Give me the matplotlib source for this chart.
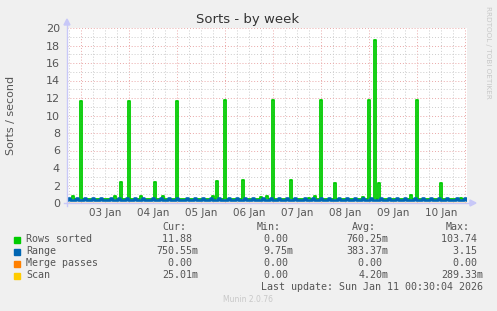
import matplotlib
matplotlib.use("Agg")
import matplotlib.pyplot as plt
import numpy as np
from matplotlib.ticker import MultipleLocator

# ---- data (hours relative to 03 Jan 00:00, hourly samples from -7 to 193) ----
t_start, t_end = -7, 193

rows_sorted = (
    [0.45, 0.45, 0.45, 0.8, 0.45, 0.45, 0.45]
    + [11.7, 0.45, 0.45, 0.45, 0.45, 0.45, 0.45, 0.45, 0.45, 0.45, 0.45, 0.45,
       0.45, 0.45, 0.45, 0.45, 0.45, 0.8, 0.45, 0.45, 2.4, 0.45, 0.45, 0.45]
    + [11.7, 0.45, 0.45, 0.45, 0.45, 0.45, 0.8, 0.45, 0.45, 0.45, 0.45, 0.45,
       0.45, 2.4, 0.45, 0.45, 0.45, 0.8, 0.45, 0.45, 0.45, 0.45, 0.45, 0.45]
    + [11.7, 0.45, 0.45, 0.45, 0.45, 0.45, 0.45, 0.45, 0.45, 0.45, 0.45, 0.45,
       0.45, 0.45, 0.45, 0.45, 0.45, 0.45, 0.8, 0.45, 2.5, 0.45, 0.45, 0.45]
    + [11.8, 0.45, 0.45, 0.45, 0.45, 0.45, 0.45, 0.45, 0.45, 2.6, 0.45, 0.45,
       0.45, 0.45, 0.45, 0.45, 0.45, 0.45, 0.7, 0.45, 0.45, 0.8, 0.45, 0.45]
    + [11.8, 0.45, 0.45, 0.45, 0.45, 0.45, 0.45, 0.45, 0.45, 2.6, 0.45, 0.45,
       0.45, 0.45, 0.45, 0.45, 0.45, 0.45, 0.6, 0.45, 0.45, 0.8, 0.45, 0.45]
    + [11.8, 0.45, 0.45, 0.45, 0.45, 0.45, 0.45, 2.3, 0.45, 0.45, 0.45, 0.45,
       0.45, 0.45, 0.45, 0.45, 0.45, 0.45, 0.45, 0.45, 0.45, 0.7, 0.45, 0.45]
    + [11.8, 0.45, 0.45, 18.6, 0.45, 2.3, 0.45, 0.45, 0.45, 0.45, 0.45, 0.45,
       0.45, 0.45, 0.45, 0.45, 0.45, 0.45, 0.45, 0.45, 0.45, 0.9, 0.45, 0.45]
    + [11.8, 0.45, 0.45, 0.45, 0.45, 0.45, 0.45, 0.45, 0.45, 0.45, 0.45, 0.45,
       2.3, 0.45, 0.45, 0.45, 0.45, 0.45, 0.45, 0.45, 0.45, 0.45, 0.6, 0.45]
    + [0.45, 0.45]
)

range_vals = (
    [0.35, 0.62, 0.35, 0.35, 0.35, 0.6, 0.35]
    + [0.4, 0.35, 0.6, 0.35, 0.35, 0.35, 0.62, 0.35, 0.35, 0.35, 0.6, 0.35,
       0.35, 0.35, 0.35, 0.62, 0.35, 0.35, 0.35, 0.6, 0.35, 0.35, 0.35, 0.62]
    + [0.4, 0.35, 0.35, 0.6, 0.35, 0.35, 0.35, 0.62, 0.35, 0.35, 0.35, 0.35,
       0.6, 0.35, 0.35, 0.35, 0.62, 0.35, 0.35, 0.35, 0.6, 0.35, 0.35, 0.35]
    + [0.62, 0.35, 0.35, 0.35, 0.35, 0.6, 0.35, 0.35, 0.35, 0.62, 0.35, 0.35,
       0.35, 0.6, 0.35, 0.35, 0.35, 0.62, 0.35, 0.35, 0.35, 0.6, 0.35, 0.35]
    + [0.4, 0.35, 0.6, 0.35, 0.35, 0.35, 0.62, 0.35, 0.35, 0.35, 0.6, 0.35,
       0.35, 0.35, 0.62, 0.35, 0.35, 0.35, 0.35, 0.6, 0.35, 0.35, 0.35, 0.62]
    + [0.4, 0.35, 0.35, 0.6, 0.35, 0.35, 0.35, 0.62, 0.35, 0.35, 0.35, 0.6,
       0.35, 0.35, 0.35, 0.35, 0.62, 0.35, 0.35, 0.35, 0.6, 0.35, 0.35, 0.35]
    + [0.62, 0.35, 0.35, 0.35, 0.6, 0.35, 0.35, 0.35, 0.35, 0.62, 0.35, 0.35,
       0.35, 0.6, 0.35, 0.35, 0.35, 0.62, 0.35, 0.35, 0.35, 0.6, 0.35, 0.35]
    + [0.4, 0.62, 0.35, 0.35, 0.35, 0.35, 0.6, 0.35, 0.35, 0.35, 0.62, 0.35,
       0.35, 0.35, 0.6, 0.35, 0.35, 0.35, 0.62, 0.35, 0.35, 0.35, 0.35, 0.6]
    + [0.4, 0.35, 0.35, 0.62, 0.35, 0.35, 0.35, 0.6, 0.35, 0.35, 0.35, 0.62,
       0.35, 0.35, 0.35, 0.6, 0.35, 0.35, 0.35, 0.35, 0.62, 0.35, 0.35, 0.35]
    + [0.6, 0.35]
)

daily_t = [-7, 0, 24, 48, 72, 96, 120, 144, 168, 193]
merge_passes = [0, 0, 0, 0, 0, 0, 0, 0, 0, 0]
scan = [0.02, 0.02, 0.02, 0.02, 0.02, 0.02, 0.02, 0.02, 0.02, 0.02]

day_labels = ["03 Jan", "04 Jan", "05 Jan", "06 Jan", "07 Jan", "08 Jan", "09 Jan", "10 Jan"]

legend_names = ["Rows sorted", "Range", "Merge passes", "Scan"]
colors = ["#00CC00", "#0066B3", "#FF8000", "#FFCC00"]
cur = ["11.88 ", "750.55m", "0.00 ", "25.01m"]
mins = ["0.00 ", "9.75m", "0.00 ", "0.00 "]
avgs = ["760.25m", "383.37m", "0.00 ", "4.20m"]
maxs = ["103.74 ", "3.15 ", "0.00 ", "289.33m"]

# ---- figure ----
W, H = 497, 311
fig = plt.figure(figsize=(W / 100, H / 100), dpi=100, facecolor="#F0F0F0")
L, R, T, B = 67, 467, 28, 203
ax = fig.add_axes([L / W, 1 - B / H, (R - L) / W, (B - T) / H], facecolor="white")

hours = np.arange(t_start, t_end + 1)
ax.plot(hours, rows_sorted, color=colors[0], lw=1.3, drawstyle="steps-mid", zorder=3)
ax.plot(hours, range_vals, color=colors[1], lw=1.9, drawstyle="steps-mid", zorder=4)
ax.plot(daily_t, merge_passes, color=colors[2], lw=1.0, zorder=5)
ax.plot(daily_t, scan, color=colors[3], lw=0.8, zorder=6, alpha=0.8)

ax.set_xlim(t_start, t_end)
ax.set_ylim(0, 20)

# grid
ax.yaxis.set_major_locator(MultipleLocator(2))
ax.yaxis.set_minor_locator(MultipleLocator(1))
ax.xaxis.set_major_locator(MultipleLocator(24))
ax.xaxis.set_minor_locator(MultipleLocator(6))
ax.grid(which="minor", color="#CCCCCC", linestyle=(0, (1, 2)), lw=0.7)
ax.grid(which="major", color="#EAA8A8", linestyle=(0, (1, 2)), lw=0.7)
ax.set_axisbelow(True)

for s in ax.spines.values():
    s.set_visible(False)

ax.tick_params(axis="y", which="both", length=0, labelsize=8, labelcolor="#555555", pad=5)
ax.tick_params(axis="x", which="both", length=0, labelbottom=False)
ax.set_yticks(np.arange(0, 21, 2))
ax.set_yticklabels([str(v) for v in range(0, 21, 2)])

# day labels at noon
for i, lab in enumerate(day_labels):
    x = 12 + 24 * i
    xf = (L + (x - t_start) / (t_end - t_start) * (R - L)) / W
    fig.text(xf, 1 - 213 / H, lab, ha="center", va="center", fontsize=7.5, color="#555555")

# axes lines with arrows (rrdtool style)
axis_col = "#C8C8F8"
fig.add_artist(plt.Line2D([L / W, L / W], [1 - (B + 3) / H, 1 - (T - 4) / H], color=axis_col, lw=1.0))
fig.add_artist(plt.Line2D([(L - 3) / W, (R + 3) / W], [1 - B / H, 1 - B / H], color=axis_col, lw=1.0))
fig.add_artist(plt.Polygon([[(L - 3) / W, 1 - (T - 3) / H], [(L + 3) / W, 1 - (T - 3) / H],
                            [L / W, 1 - (T - 9) / H]], closed=True, color=axis_col))
fig.add_artist(plt.Polygon([[(R + 3) / W, 1 - (B - 3) / H], [(R + 3) / W, 1 - (B + 3) / H],
                            [(R + 9) / W, 1 - B / H]], closed=True, color=axis_col))

# title and labels
fig.text(248 / W, 1 - 19 / H, "Sorts - by week", ha="center", va="center", fontsize=9.5, color="#333333")
fig.text(11 / W, 1 - 115 / H, "Sorts / second", ha="center", va="center", rotation=90,
         fontsize=8, color="#555555")
fig.text(488 / W, 1 - 52 / H, "RRDTOOL / TOBI OETIKER", ha="center", va="center", rotation=270,
         fontsize=5.2, color="#C8C8C8")

# legend table
mono = dict(family="DejaVu Sans Mono", fontsize=7.2, color="#555555")
hy = 1 - 227.5 / H
fig.text(186 / W, hy, "Cur:", ha="right", va="center", **mono)
fig.text(281 / W, hy, "Min:", ha="right", va="center", **mono)
fig.text(376 / W, hy, "Avg:", ha="right", va="center", **mono)
fig.text(470 / W, hy, "Max:", ha="right", va="center", **mono)
for i, name in enumerate(legend_names):
    yc = 239.5 + 12 * i
    yf = 1 - yc / H
    fig.add_artist(plt.Rectangle((14 / W, 1 - (yc + 3) / H), 6 / W, 6 / H, color=colors[i]))
    fig.text(26 / W, yf, name, ha="left", va="center", **mono)
    fig.text(198.5 / W, yf, cur[i], ha="right", va="center", **mono)
    fig.text(293.5 / W, yf, mins[i], ha="right", va="center", **mono)
    fig.text(388.5 / W, yf, avgs[i], ha="right", va="center", **mono)
    fig.text(483 / W, yf, maxs[i], ha="right", va="center", **mono)
fig.text(483 / W, 1 - 287.5 / H, "Last update: Sun Jan 11 00:30:04 2026", ha="right", va="center", **mono)
fig.text(248 / W, 1 - 300 / H, "Munin 2.0.76", ha="center", va="center", fontsize=5.5, color="#C8C8C8")

fig.savefig("out.png", dpi=100, facecolor=fig.get_facecolor())
